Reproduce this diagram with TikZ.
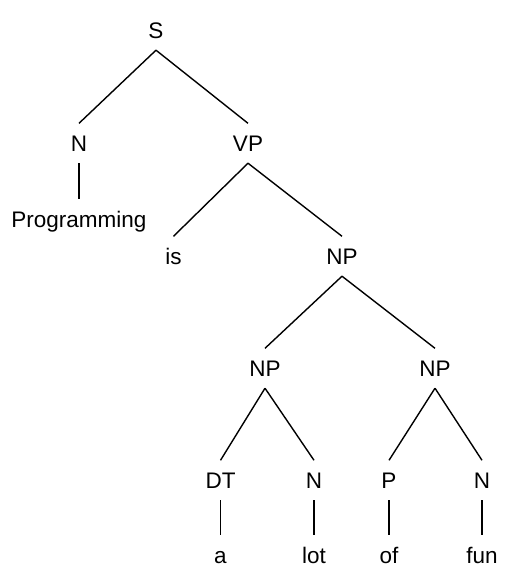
\documentclass[tikz,border=0pt]{standalone}
\usepackage{fontspec}
\setmainfont{Liberation Sans}
\begin{document}
\begin{tikzpicture}[x=1pt,y=-1pt,
  lbl/.style={anchor=base,font=\fontsize{22.5}{27}\selectfont,text height=15.5pt,text depth=0pt,inner xsep=1pt,inner ysep=12pt},
  edge/.style={draw=black,line width=1.4pt}]
\useasboundingbox[fill=white] (0,0) rectangle (513,587);
\node[lbl] (s) at (156,38) {S};
\node[lbl] (n1) at (79,151) {N};
\node[lbl] (vp) at (248,151) {VP};
\node[lbl] (prog) at (79,227) {Programming};
\node[lbl] (is) at (173.5,264) {is};
\node[lbl] (np1) at (342,264) {NP};
\node[lbl] (np2) at (265,376) {NP};
\node[lbl] (np3) at (435,376) {NP};
\node[lbl] (dt) at (220.5,488) {DT};
\node[lbl] (n2) at (314,488) {N};
\node[lbl] (p) at (389,488) {P};
\node[lbl] (n3) at (482,488) {N};
\node[lbl] (a) at (220.5,563) {a};
\node[lbl] (lot) at (314,563) {lot};
\node[lbl] (of) at (389,563) {of};
\node[lbl] (fun) at (482,563) {fun};
\draw[edge] (s.south) -- (n1.north);
\draw[edge] (s.south) -- (vp.north);
\draw[edge] (n1.south) -- (prog.north);
\draw[edge] (vp.south) -- (is.north);
\draw[edge] (vp.south) -- (np1.north);
\draw[edge] (np1.south) -- (np2.north);
\draw[edge] (np1.south) -- (np3.north);
\draw[edge] (np2.south) -- (dt.north);
\draw[edge] (np2.south) -- (n2.north);
\draw[edge] (np3.south) -- (p.north);
\draw[edge] (np3.south) -- (n3.north);
\draw[edge] (dt.south) -- (a.north);
\draw[edge] (n2.south) -- (lot.north);
\draw[edge] (p.south) -- (of.north);
\draw[edge] (n3.south) -- (fun.north);
\end{tikzpicture}
\end{document}
